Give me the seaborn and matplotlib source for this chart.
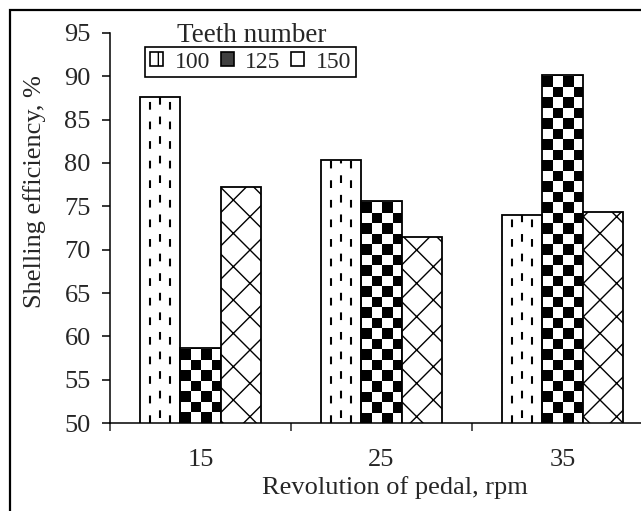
import numpy as np
import pandas as pd
import matplotlib
matplotlib.use("Agg")
import matplotlib.pyplot as plt
import seaborn as sns
from matplotlib.patches import Patch, Rectangle

# data
rpm = ["15", "25", "35"]
teeth_levels = ["100", "125", "150"]
eff_100 = [87.6, 80.4, 74.0]
eff_125 = [58.6, 75.6, 90.1]
eff_150 = [77.2, 71.5, 74.3]

df = pd.DataFrame({
    "rpm": rpm * 3,
    "teeth": [t for t in teeth_levels for _ in rpm],
    "eff": eff_100 + eff_125 + eff_150,
})

sns.set_style("ticks")
plt.rcParams["font.family"] = ["Liberation Serif", "DejaVu Serif"]
plt.rcParams["hatch.linewidth"] = 1.0

fig = plt.figure(figsize=(6.41, 5.11), dpi=100)
ax = fig.add_axes([110 / 641, 88 / 511, 543 / 641, 390 / 511])

sns.barplot(data=df, x="rpm", y="eff", hue="teeth", hue_order=teeth_levels,
            order=rpm, width=0.67, palette=["white"] * 3, edgecolor="black",
            linewidth=1.3, legend=False, ax=ax)

ax.set_xlim(-0.5, 2.5)
ax.set_ylim(50, 95)

# bar textures
bars100, bars125, bars150 = ax.containers
for p in bars100:
    x0, w = p.get_x(), p.get_width()
    top = p.get_y() + p.get_height()
    for k, f in enumerate([0.25, 0.5, 0.75]):
        off = 7 if k == 1 else 0
        ln, = ax.plot([x0 + w * f] * 2, [50, top], color="black", lw=1.5,
                      ls=(off, (3.7, 5.7)), dash_capstyle="butt",
                      zorder=p.get_zorder() + 0.1)
        ln.set_clip_path(p)

sq_x = 10.5 / 181
sq_y = 10.5 / (390 / 45)
for p in bars125:
    x0, w = p.get_x(), p.get_width()
    top = p.get_y() + p.get_height()
    nx = int(np.ceil(w / sq_x))
    ny = int(np.ceil((top - 50) / sq_y))
    jj, ii = np.indices((ny, nx))
    board = ((ii + jj) % 2).astype(float)
    p.set_facecolor("none")
    im = ax.imshow(board, cmap="gray", origin="lower", aspect="auto",
                   interpolation="nearest",
                   extent=[x0, x0 + nx * sq_x, 50, 50 + ny * sq_y],
                   zorder=p.get_zorder() - 0.1)
    im.set_clip_path(p)

for p in bars150:
    p.set_hatch("x")

ax.set_xlim(-0.5, 2.5)
ax.set_ylim(50, 95)

ax.set_yticks(range(50, 100, 5))
ax.set_xticks([-0.5, 0.5, 1.5, 2.5], minor=True)
ax.tick_params(axis="y", length=5.8, width=1.1, pad=8, labelsize=19, color="black")
ax.tick_params(axis="x", which="major", length=0, pad=19, labelsize=19)
ax.tick_params(axis="x", which="minor", length=5.8, width=1.1, direction="out")

for s in ["top", "right"]:
    ax.spines[s].set_visible(False)
for s in ["left", "bottom"]:
    ax.spines[s].set_linewidth(1.1)
    ax.spines[s].set_color("black")

ax.set_xlabel("Revolution of pedal, rpm", fontsize=19)
ax.set_ylabel("Shelling efficiency, %", fontsize=19)
ax.xaxis.set_label_coords((395 - 110) / 543, (423 - 476) / 390)
ax.yaxis.set_label_coords((46 - 110) / 543, (423 - 192) / 390)

handles = [
    Patch(facecolor="white", edgecolor="black", hatch="|", lw=1.2),
    Patch(facecolor="0.25", edgecolor="black", lw=1.2),
    Patch(facecolor="white", edgecolor="black", lw=1.2),
]
leg = ax.legend(handles, teeth_levels, ncol=3, loc="upper left",
                bbox_to_anchor=(145 / 641, 1 - 47 / 511), bbox_transform=fig.transFigure,
                borderaxespad=0, fontsize=17, handlelength=0.55, handleheight=0.55,
                handletextpad=0.5, columnspacing=0.45, borderpad=0.2,
                fancybox=False, framealpha=1, edgecolor="black")
leg.get_frame().set_linewidth(1.2)

fig.text(252 / 641, 1 - 42 / 511, "Teeth number", ha="center", va="baseline", fontsize=19.5)

fig.patches.append(Rectangle((10 / 641, -0.1), 1.2, 1.1 - 10 / 511,
                             transform=fig.transFigure, fill=False, lw=1.6,
                             edgecolor="black", figure=fig))

fig.savefig("out.png", dpi=100)
